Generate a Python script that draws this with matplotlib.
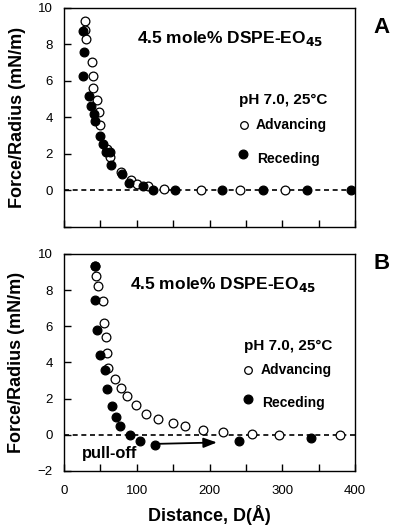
import matplotlib
matplotlib.use("Agg")
import matplotlib.pyplot as plt

plt.rcParams['font.family'] = ['Liberation Sans', 'DejaVu Sans']

# ── Panel A data ─────────────────────────────────────────────────────────────
a_adv_x = [29, 29, 30, 39, 39.5, 40, 46, 48, 49, 58.5, 63, 78, 92, 100, 116, 137.5, 188, 242, 304]
a_adv_y = [9.3, 8.8, 8.3, 7.05, 6.26, 5.6, 4.95, 4.3, 3.6, 2.3, 1.83, 1.0, 0.55, 0.37, 0.27, 0.1, 0.0, 0.0, 0.0]
a_rec_x = [26.6, 27.5, 26.6, 34, 37.6, 40.8, 43, 50, 54, 58.2, 63.2, 64.6, 79.3, 89.3, 108, 123, 152, 217, 273, 334, 394]
a_rec_y = [8.75, 7.58, 6.26, 5.18, 4.65, 4.2, 3.8, 3.0, 2.56, 2.09, 2.09, 1.37, 0.92, 0.4, 0.22, 0.0, 0.0, 0.0, 0.0, 0.0, 0.0]

# ── Panel B data ─────────────────────────────────────────────────────────────
b_adv_x = [42.6, 44, 47, 53, 55.4, 57.7, 59, 60, 70.6, 78.8, 87, 99.4, 113, 128.8, 149.4, 166.3, 191.5, 218, 259, 296, 380]
b_adv_y = [9.35, 8.8, 8.2, 7.4, 6.2, 5.4, 4.5, 3.7, 3.07, 2.6, 2.17, 1.67, 1.17, 0.87, 0.63, 0.46, 0.26, 0.17, 0.07, 0.0, 0.0]
b_rec_x = [42.6, 43, 45.4, 50, 56.8, 58.6, 66, 71, 77.4, 90.7, 104.5, 125, 241, 339.5]
b_rec_y = [9.35, 7.44, 5.8, 4.39, 3.59, 2.52, 1.61, 1.0, 0.48, -0.02, -0.33, -0.54, -0.33, -0.18]

panels = [
    ("A", a_adv_x, a_adv_y, a_rec_x, a_rec_y),
    ("B", b_adv_x, b_adv_y, b_rec_x, b_rec_y),
]

fig = plt.figure(figsize=(4.0, 5.31), dpi=100)
fig.patch.set_facecolor("white")

axes_pos = [[0.16, 0.5725, 0.7275, 0.4125],
            [0.16, 0.113, 0.7275, 0.409]]

# per-panel annotation positions (data coords)
title_xy = [(100, 8.35), (91, 8.3)]
ph_xy = [(240, 4.95), (247, 4.9)]
adv_xy = [(247, 3.57), (253, 3.6)]
rec_xy = [(246, 2.0), (253, 2.0)]

for i, (lab, ax_x, ax_y, rx, ry) in enumerate(panels):
    ax = fig.add_axes(axes_pos[i])
    ax.axhline(0, color="black", lw=1.2, ls=(0, (3, 2.2)), zorder=1)
    ax.plot(ax_x, ax_y, "o", ms=6.3, mfc="white", mec="black", mew=0.9, zorder=3)
    ax.plot(rx, ry, "o", ms=6.3, mfc="black", mec="black", mew=0.9, zorder=4)

    ax.set_xlim(0, 400)
    ax.set_ylim(-2, 10)
    ax.set_xticks(range(0, 401, 50))
    ax.set_yticks(range(-2, 11, 2))
    ax.tick_params(direction="in", length=5, width=1, labelsize=9.5)
    ax.tick_params(axis="y", pad=8)
    ax.tick_params(axis="x", pad=10)
    if i == 0:
        ax.set_xticklabels([])
        ax.set_yticklabels(["", "0", "2", "4", "6", "8", "10"])
    else:
        ax.set_xticklabels(["0", "", "100", "", "200", "", "300", "", "400"])
    for sp in ax.spines.values():
        sp.set_linewidth(1.0)

    ax.set_ylabel("Force/Radius (mN/m)", fontsize=13, fontweight="bold", labelpad=9)

    ax.text(*title_xy[i], "4.5 mole% DSPE-EO$_{\\mathbf{45}}$", fontsize=12.5,
            fontweight="bold", ha="left", va="center")
    ax.text(*ph_xy[i], "pH 7.0, 25\u00b0C", fontsize=11, fontweight="bold",
            ha="left", va="center")
    ax.plot(*adv_xy[i], "o", ms=5.5, mfc="white", mec="black", mew=0.9, clip_on=False)
    ax.text(adv_xy[i][0] + 17, adv_xy[i][1], "Advancing", fontsize=10,
            fontweight="bold", ha="left", va="center")
    ax.plot(*rec_xy[i], "o", ms=6.3, mfc="black", mec="black", mew=0.9, clip_on=False)
    ax.text(rec_xy[i][0] + 19, rec_xy[i][1] - 0.25, "Receding", fontsize=10,
            fontweight="bold", ha="left", va="center")

    ax.text(1.065, 0.91 if i == 0 else 0.955, lab, transform=ax.transAxes,
            fontsize=16, fontweight="bold", ha="left", va="center")

    if i == 1:
        ax.annotate("", xy=(214, -0.42), xytext=(128, -0.5),
                    arrowprops=dict(arrowstyle="-|>,head_length=0.8,head_width=0.3",
                                    color="black", lw=1.3))
        ax.text(25, -1.05, "pull-off", fontsize=11.8, fontweight="bold",
                ha="left", va="center")
        ax.set_xlabel("Distance, D(\u00c5)", fontsize=13, fontweight="bold", labelpad=6)

fig.savefig("out.png", dpi=100, facecolor="white")
